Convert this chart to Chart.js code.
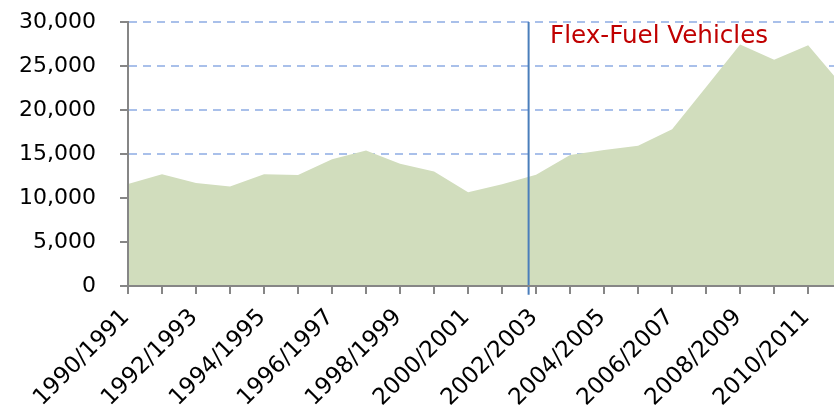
<!DOCTYPE html>
<html>
<head>
<meta charset="utf-8">
<script src="https://cdn.jsdelivr.net/npm/chart.js@4/dist/chart.umd.min.js"></script>
<style>
  html, body { margin: 0; padding: 0; background: #fff; }
  #wrap { width: 834px; height: 409px; }
</style>
</head>
<body>
<div id="wrap"><canvas id="c"></canvas></div>
<script>
// Crop years (x categories)
const categories = [
  '1990/1991','1991/1992','1992/1993','1993/1994','1994/1995','1995/1996',
  '1996/1997','1997/1998','1998/1999','1999/2000','2000/2001','2001/2002',
  '2002/2003','2003/2004','2004/2005','2005/2006','2006/2007','2007/2008',
  '2008/2009','2009/2010','2010/2011','2011/2012'
];
// Series values
const values = [
  11600, 12700, 11700, 11300, 12700, 12600, 14400, 15400, 13900, 13000, 10650,
  11550, 12650, 14900, 15450, 15950, 17800, 22600, 27450, 25700, 27350, 22800
];
// Y tick values
const yTicks = [0, 5000, 10000, 15000, 20000, 25000, 30000];
// Marker for the start of the flex-fuel era (position in category units)
const markerIndex = 11.78;
const markerLabel = 'Flex-Fuel Vehicles';
const markerLabelAt = { x: 12.41, y: 27600 };

const FONT = "'DejaVu Sans', sans-serif";
const GRAY = '#868686';

const textPlugin = {
  id: 'flexText',
  afterDatasetsDraw(chart) {
    const { ctx, scales } = chart;
    ctx.save();
    ctx.font = '24.6px ' + FONT;
    ctx.fillStyle = '#c00000';
    ctx.textAlign = 'left';
    ctx.textBaseline = 'alphabetic';
    ctx.fillText(markerLabel, scales.x.getPixelForValue(markerLabelAt.x), scales.y.getPixelForValue(markerLabelAt.y));
    ctx.restore();
  }
};

new Chart(document.getElementById('c'), {
  type: 'line',
  data: {
    datasets: [
      {
        data: [{ x: markerIndex, y: -1000 }, { x: markerIndex, y: 30000 }],
        borderColor: '#4a7ebb',
        borderWidth: 2,
        pointRadius: 0,
        fill: false,
        clip: false,
        order: 1
      },
      {
        data: values.map((v, i) => ({ x: i, y: v })),
        borderWidth: 0,
        borderColor: 'rgba(0,0,0,0)',
        backgroundColor: '#d1ddbd',
        pointRadius: 0,
        fill: 'origin',
        tension: 0,
        order: 2
      }
    ]
  },
  options: {
    responsive: true,
    maintainAspectRatio: false,
    animation: false,
    events: [],
    layout: { padding: { top: 22, right: 0, bottom: 0, left: 0 } },
    plugins: { legend: { display: false }, tooltip: { enabled: false } },
    scales: {
      x: {
        type: 'linear',
        min: 0,
        max: 20.76,
        afterBuildTicks: (s) => { s.ticks = categories.slice(0, 21).map((c, i) => ({ value: i })); },
        afterFit: (s) => { s.height = 123; s.paddingLeft = 0; s.paddingRight = 0; },
        ticks: {
          autoSkip: false,
          minRotation: 45,
          maxRotation: 45,
          padding: 10,
          labelOffset: -2,
          color: '#000',
          font: { family: FONT, size: 23 },
          callback: (v) => (v % 2 === 0 ? categories[v] : '')
        },
        grid: { drawOnChartArea: false, drawTicks: true, tickLength: 8, tickColor: GRAY, tickWidth: 2, color: GRAY, lineWidth: 2 },
        border: { color: GRAY, width: 2, z: 1 }
      },
      y: {
        min: 0,
        max: 30000,
        afterBuildTicks: (s) => { s.ticks = yTicks.map(v => ({ value: v })); },
        afterFit: (s) => { s.width = 128; s.paddingTop = 0; s.paddingBottom = 0; },
        ticks: {
          padding: 24,
          color: '#000',
          font: { family: FONT, size: 22 },
          callback: (v) => v.toLocaleString('en-US')
        },
        grid: {
          color: (ctx) => (ctx.tick && ctx.tick.value === 0 ? 'rgba(0,0,0,0)' : '#a9c0ea'),
          lineWidth: 2,
          tickLength: 8,
          tickColor: GRAY,
          tickWidth: 2,
          tickBorderDash: []
        },
        border: { color: GRAY, width: 2, dash: [8, 6], z: 1 }
      }
    }
  },
  plugins: [textPlugin]
});
</script>
</body>
</html>
